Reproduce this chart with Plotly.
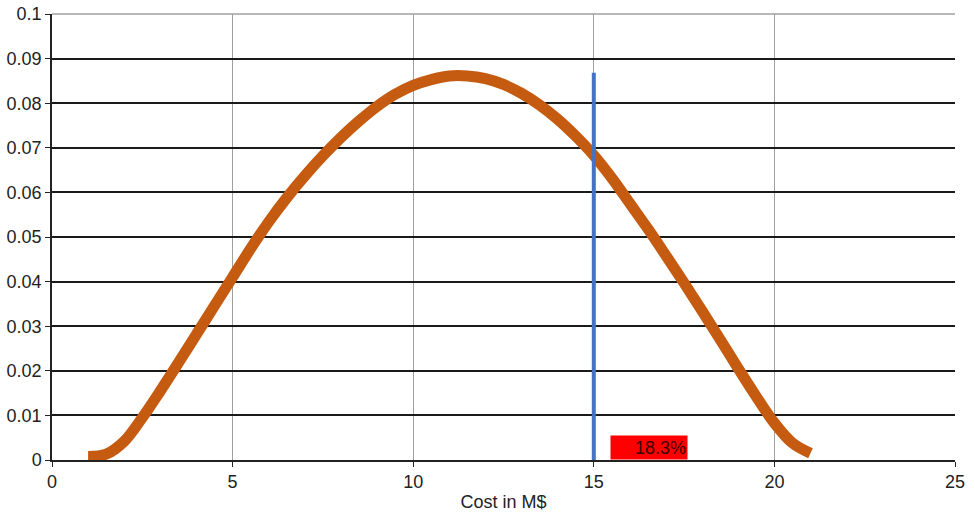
import plotly.graph_objects as go

# distribution curve
cost = [1.0, 1.5, 2.0, 2.5, 3.0, 3.5, 4.0, 4.5, 5.0, 5.5, 6.0, 6.5, 7.0, 7.5, 8.0, 8.5, 9.0, 9.5, 10.0, 10.5,
        11.0, 11.5, 12.0, 12.5, 13.0, 13.5, 14.0, 14.5, 15.0, 15.5, 16.0, 16.5, 17.0, 17.5, 18.0, 18.5,
        19.0, 19.5, 20.0, 20.5, 21.0]
density = [0.0008, 0.0013, 0.0042, 0.0095, 0.0155, 0.0218, 0.0282, 0.0346, 0.0410, 0.0474, 0.0534, 0.0588,
           0.0637, 0.0682, 0.0723, 0.0760, 0.0793, 0.0820, 0.0840, 0.0853, 0.0861, 0.0861, 0.0855, 0.0842,
           0.0822, 0.0796, 0.0764, 0.0726, 0.0683, 0.0632, 0.0575, 0.0518, 0.0458, 0.0397, 0.0334, 0.0270,
           0.0205, 0.0142, 0.0083, 0.0038, 0.0015]

marker_x = [15, 15]
marker_y = [0, 0.0868]

label_text = "18.3%"
label_x = 16.53

fig = go.Figure()
fig.add_trace(go.Scatter(x=cost, y=density, mode="lines",
                         line=dict(color="#C55A11", width=11, shape="spline", smoothing=1.0),
                         showlegend=False))
fig.add_trace(go.Scatter(x=marker_x, y=marker_y, mode="lines",
                         line=dict(color="#4472C4", width=4), showlegend=False))

fig.add_annotation(x=label_x, y=0, xref="x", yref="y", yanchor="bottom",
                   text=label_text, showarrow=False, bgcolor="#FF0000",
                   width=74, height=21, borderpad=1, align="right",
                   font=dict(size=18, color="#3a0000", family="Liberation Sans"))

# gray top border
fig.add_shape(type="line", xref="paper", yref="paper", x0=0, x1=1, y0=1, y1=1,
              line=dict(color="#A0A0A0", width=1.5))

fig.update_layout(
    width=975, height=522,
    margin=dict(l=52, r=20, t=14, b=62),
    plot_bgcolor="white", paper_bgcolor="white",
    font=dict(family="Liberation Sans", size=18, color="#222"),
    xaxis=dict(range=[0, 25], dtick=5, showgrid=True, gridcolor="#A0A0A0", gridwidth=1,
               zeroline=False, showline=True, linecolor="#222", linewidth=1.5,
               ticks="outside", ticklen=5, tickcolor="#222", automargin=False,
               title=dict(text="Cost in M$", font=dict(size=18), standoff=4)),
    yaxis=dict(range=[0, 0.1], dtick=0.01, showgrid=True, gridcolor="#1a1a1a", gridwidth=1.5,
               zeroline=False, showline=True, linecolor="#222", linewidth=1.5,
               ticks="outside", ticklen=5, tickcolor="#222", automargin=False),
)

fig.write_html("out.html", config={"displayModeBar": False},
               post_script="document.body.style.margin='0';")
